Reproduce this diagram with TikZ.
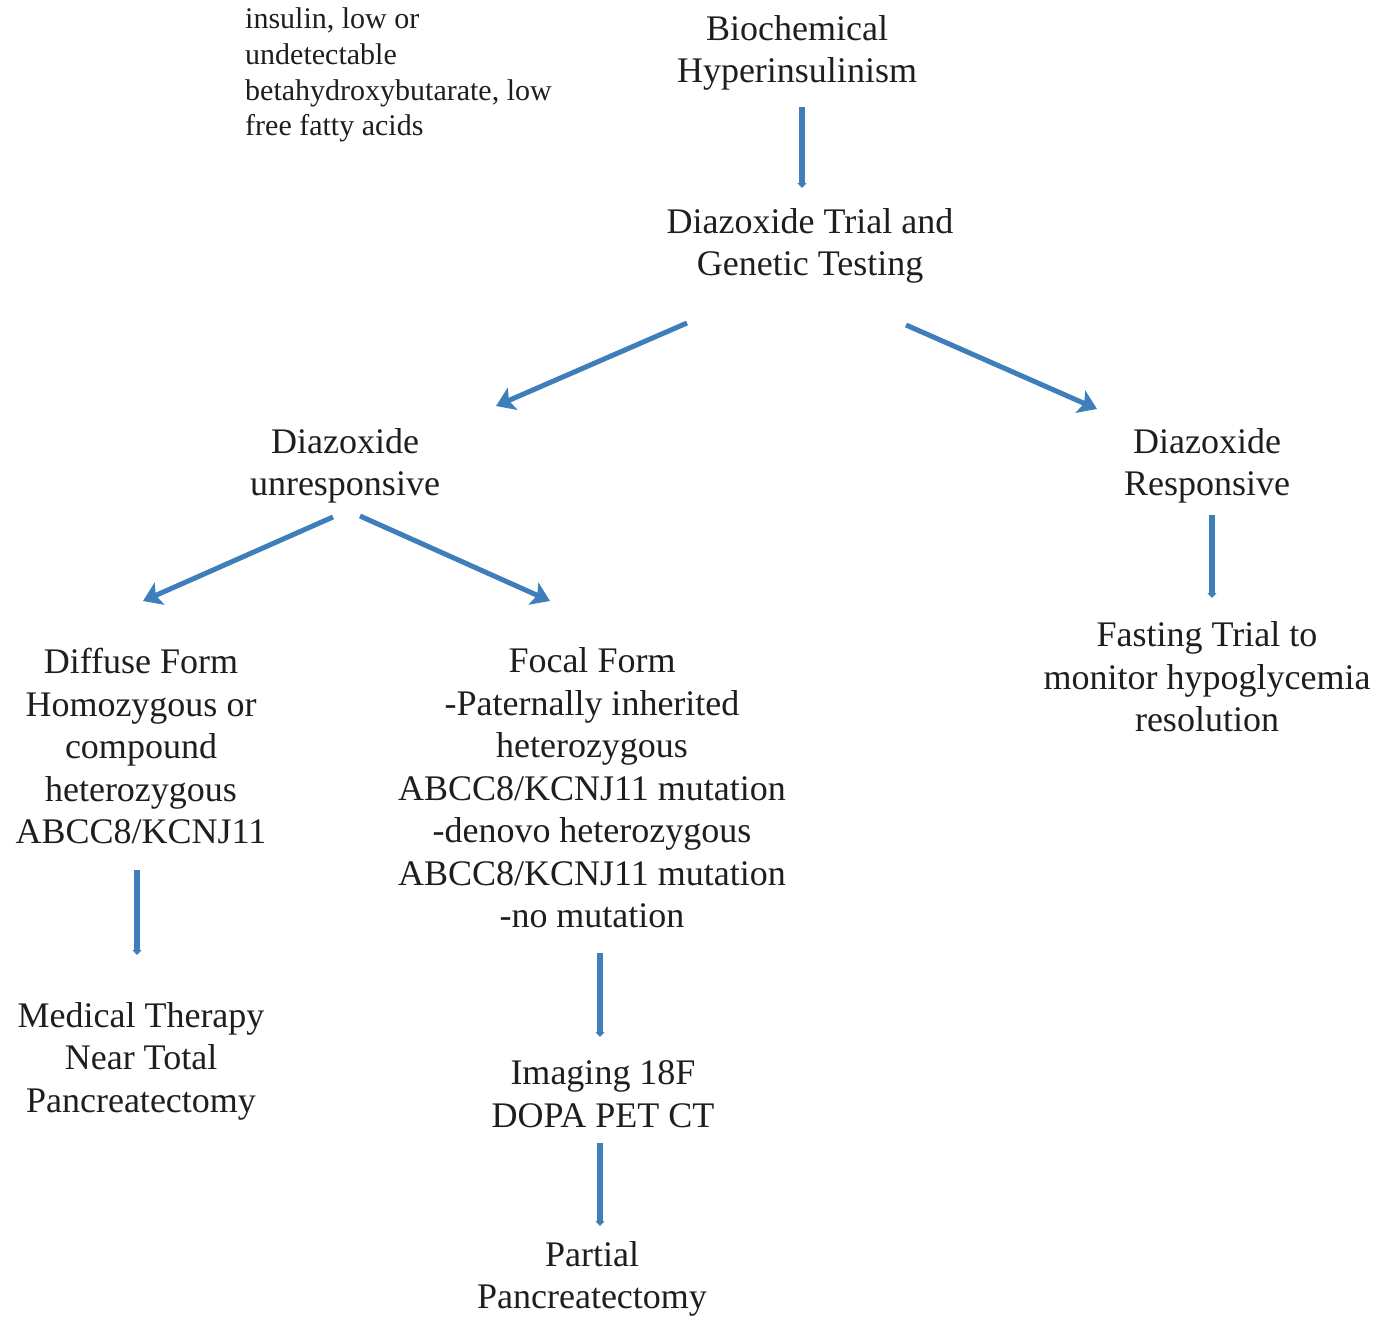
\documentclass[tikz,border=0pt]{standalone}
\usepackage{fontspec}
\setmainfont{Liberation Serif}
\usetikzlibrary{arrows.meta}
\definecolor{arrowblue}{RGB}{62,126,186}
\definecolor{txt}{RGB}{30,30,30}
\begin{document}
\begin{tikzpicture}[x=1pt,y=-1pt,
  lbl/.style={align=center,text=txt,font=\fontsize{36}{42.5}\selectfont,inner sep=0pt},
  small/.style={align=left,text=txt,font=\fontsize{30}{35.7}\selectfont,inner sep=0pt},
  diag/.style={draw=arrowblue,line width=5pt,-{Stealth[length=18pt,width=24pt,inset=4pt]}},
  vert/.style={draw=arrowblue,line width=6pt,-{Triangle[length=5pt,width=9pt]}}]
\useasboundingbox (0,0) rectangle (1388,1319);
% nodes
\node[small,anchor=west] (crit) at (245,75) {insulin, low or\\undetectable\\betahydroxybutarate, low\\free fatty acids};
\node[lbl] (bio) at (797,53) {Biochemical\\Hyperinsulinism};
\node[lbl] (trial) at (810,246) {Diazoxide Trial and\\Genetic Testing};
\node[lbl] (unresp) at (345,466) {Diazoxide\\unresponsive};
\node[lbl] (resp) at (1207,466) {Diazoxide\\Responsive};
\node[lbl] (diffuse) at (141,746) {Diffuse Form\\Homozygous or\\compound\\heterozygous\\ABCC8/KCNJ11};
\node[lbl] (focal) at (592,788) {Focal Form\\-Paternally inherited\\heterozygous\\ABCC8/KCNJ11 mutation\\-denovo heterozygous\\ABCC8/KCNJ11 mutation\\-no mutation};
\node[lbl] (fast) at (1207,677) {Fasting Trial to\\monitor hypoglycemia\\resolution};
\node[lbl] (med) at (141,1061) {Medical Therapy\\Near Total\\Pancreatectomy};
\node[lbl] (img) at (603,1094) {Imaging 18F\\DOPA PET CT};
\node[lbl] (part) at (592,1279) {Partial\\Pancreatectomy};
% connector end points
\coordinate (a1s) at (802,107);  \coordinate (a1e) at (802,188);
\coordinate (a2s) at (687,323);  \coordinate (a2e) at (496,406);
\coordinate (a3s) at (906,325);  \coordinate (a3e) at (1097,409);
\coordinate (a4s) at (333,517);  \coordinate (a4e) at (143,601);
\coordinate (a5s) at (360,516);  \coordinate (a5e) at (550,601);
\coordinate (a6s) at (1212,515); \coordinate (a6e) at (1212,598);
\coordinate (a7s) at (137,870);  \coordinate (a7e) at (137,955);
\coordinate (a8s) at (600,953);  \coordinate (a8e) at (600,1037);
\coordinate (a9s) at (600,1143); \coordinate (a9e) at (600,1226);
% connectors
\draw[vert] (a1s) -- (a1e);
\draw[diag] (a2s) -- (a2e);
\draw[diag] (a3s) -- (a3e);
\draw[diag] (a4s) -- (a4e);
\draw[diag] (a5s) -- (a5e);
\draw[vert] (a6s) -- (a6e);
\draw[vert] (a7s) -- (a7e);
\draw[vert] (a8s) -- (a8e);
\draw[vert] (a9s) -- (a9e);
\end{tikzpicture}
\end{document}
